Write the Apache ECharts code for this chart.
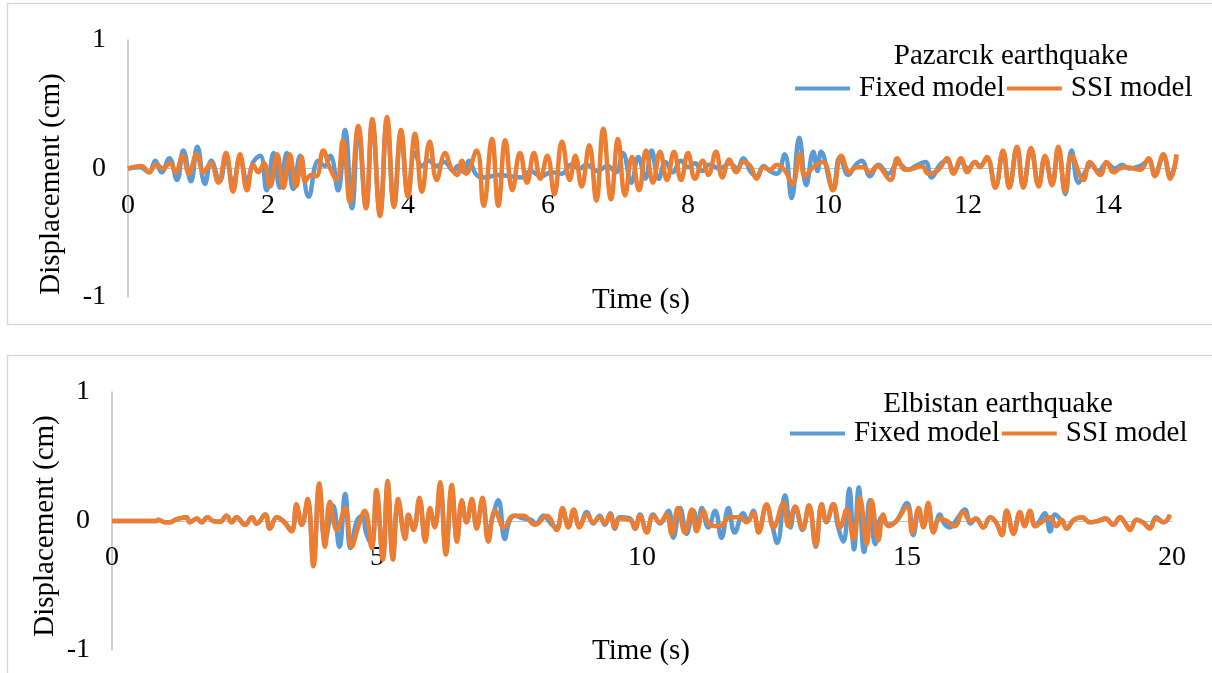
<!DOCTYPE html>
<html>
<head>
<meta charset="utf-8">
<script src="https://cdn.jsdelivr.net/npm/echarts@6/dist/echarts.min.js"></script>
<style>
html,body{margin:0;padding:0;background:#fff;}
#chart{width:1212px;height:673px;}
</style>
</head>
<body>
<div id="chart"></div>
<script>
// ---------- DATA (time s, displacement cm) ----------
const seriesNames = ['Fixed model', 'SSI model'];
const panelTitles = ['Pazarcık earthquake', 'Elbistan earthquake'];
const xAxisTitle = 'Time (s)';
const yAxisTitle = 'Displacement (cm)';

// Pazarcık — Fixed model
const pazFixed = [[0,0],[0.17,0.01],[0.30,-0.03],[0.39,0.06],[0.48,-0.03],[0.59,0.08],[0.70,-0.09],[0.79,0.14],[0.90,-0.10],[0.99,0.17],[1.10,-0.12],[1.19,0.06],[1.31,-0.10],[1.40,0.08],[1.50,-0.12],[1.60,0.08],[1.70,-0.10],[1.79,0.05],[1.89,0.10],[1.98,-0.17],[2.08,0.12],[2.17,-0.15],[2.27,0.12],[2.36,-0.16],[2.46,0.10],[2.58,-0.22],[2.72,0.06],[2.81,0.02],[2.89,0.10],[3.00,-0.17],[3.10,0.30],[3.20,-0.31],[3.29,0.30],[3.40,-0.30],[3.49,0.36],[3.60,-0.35],[3.70,0.37],[3.80,-0.28],[3.90,0.27],[4.00,-0.20],[4.10,0.12],[4.20,0.02],[4.30,0.06],[4.41,0.02],[4.52,0.05],[4.65,-0.02],[4.71,0.02],[4.80,-0.03],[4.87,0.06],[4.98,-0.05],[5.10,-0.07],[5.30,-0.05],[5.45,-0.06],[5.62,-0.07],[5.75,-0.02],[5.90,-0.06],[6.05,-0.03],[6.20,-0.04],[6.33,0.03],[6.45,0.0],[6.55,0.03],[6.70,-0.02],[6.85,0.02],[6.97,-0.03],[7.07,0.12],[7.19,-0.11],[7.29,0.09],[7.39,-0.08],[7.48,0.14],[7.58,-0.08],[7.68,0.05],[7.78,-0.03],[7.90,0.06],[8.00,0.01],[8.10,0.04],[8.20,-0.02],[8.30,0.03],[8.45,0.0],[8.60,0.04],[8.70,0.0],[8.79,0.08],[8.89,-0.02],[8.98,-0.06],[9.08,0.02],[9.17,-0.02],[9.27,-0.04],[9.38,0.11],[9.48,-0.23],[9.59,0.24],[9.69,-0.13],[9.79,0.13],[9.85,-0.02],[9.90,0.13],[10.07,-0.15],[10.17,0.09],[10.29,-0.05],[10.40,0.03],[10.48,0.06],[10.60,-0.06],[10.72,0.03],[10.86,-0.04],[11.00,0.04],[11.15,-0.01],[11.25,0.02],[11.39,0.05],[11.48,-0.07],[11.60,0.03],[11.70,0.06],[11.80,-0.02],[11.90,0.05],[12.00,0.0],[12.10,0.05],[12.17,0.02],[12.27,0.08],[12.39,-0.14],[12.50,0.13],[12.59,-0.14],[12.70,0.16],[12.79,-0.14],[12.90,0.15],[13.01,-0.13],[13.10,0.09],[13.20,-0.12],[13.29,0.15],[13.39,-0.20],[13.48,0.14],[13.58,-0.11],[13.68,-0.02],[13.76,0.03],[13.86,-0.02],[13.98,0.04],[14.10,0.0],[14.20,0.03],[14.30,0.0],[14.46,0.02],[14.58,0.06],[14.67,-0.04],[14.79,0.09],[14.89,-0.06],[14.98,0.09]];

// Pazarcık — SSI model
const pazSSI = [[0,0],[0.19,0.02],[0.30,-0.03],[0.40,0.03],[0.50,0],[0.60,0.04],[0.68,-0.03],[0.78,0.10],[0.87,-0.04],[0.98,0.11],[1.08,-0.03],[1.18,0.04],[1.29,-0.11],[1.40,0.12],[1.50,-0.18],[1.60,0.11],[1.70,-0.17],[1.79,0.03],[1.86,-0.03],[1.94,0.04],[2.03,-0.14],[2.13,0.11],[2.22,-0.15],[2.31,0.11],[2.40,-0.14],[2.48,0.09],[2.53,-0.10],[2.62,-0.05],[2.69,-0.06],[2.79,0.14],[2.88,0.01],[2.98,-0.09],[3.07,0.22],[3.17,-0.26],[3.29,0.33],[3.40,-0.31],[3.49,0.385],[3.60,-0.37],[3.70,0.40],[3.80,-0.30],[3.90,0.30],[4.00,-0.22],[4.10,0.27],[4.20,-0.18],[4.31,0.21],[4.41,-0.09],[4.53,0.12],[4.62,0.0],[4.70,-0.05],[4.77,0.06],[4.83,-0.04],[4.98,0.14],[5.08,-0.29],[5.20,0.23],[5.29,-0.29],[5.39,0.22],[5.49,-0.17],[5.60,0.12],[5.70,-0.11],[5.80,0.12],[5.89,-0.08],[5.99,0.10],[6.09,-0.20],[6.20,0.21],[6.31,-0.09],[6.39,0.10],[6.48,-0.14],[6.59,0.18],[6.69,-0.25],[6.79,0.31],[6.90,-0.24],[7.00,0.23],[7.10,-0.21],[7.20,0.09],[7.30,-0.17],[7.40,0.14],[7.50,-0.11],[7.60,0.13],[7.70,-0.09],[7.80,0.13],[7.90,-0.09],[8.00,0.12],[8.10,-0.08],[8.21,0.06],[8.29,-0.05],[8.40,0.13],[8.49,-0.07],[8.59,0.07],[8.69,-0.03],[8.79,0.05],[8.89,0.02],[8.98,-0.08],[9.08,0.01],[9.17,-0.01],[9.27,0.03],[9.39,-0.02],[9.49,-0.12],[9.60,0.11],[9.67,-0.06],[9.79,0.01],[9.93,0.05],[10.07,-0.17],[10.19,0.10],[10.31,-0.03],[10.41,0.01],[10.50,0.01],[10.60,-0.03],[10.70,0.02],[10.89,-0.09],[10.99,0.08],[11.10,-0.01],[11.22,0.0],[11.34,0.02],[11.43,-0.04],[11.58,-0.01],[11.70,0.08],[11.79,-0.04],[11.90,0.08],[11.99,-0.03],[12.10,0.05],[12.17,0.01],[12.27,0.09],[12.39,-0.15],[12.50,0.14],[12.59,-0.15],[12.70,0.17],[12.79,-0.15],[12.90,0.16],[13.01,-0.14],[13.10,0.10],[13.20,-0.13],[13.29,0.17],[13.39,-0.18],[13.48,0.10],[13.65,-0.09],[13.74,0.05],[13.89,-0.05],[13.98,0.05],[14.08,-0.03],[14.17,0.0],[14.27,0.01],[14.46,-0.01],[14.58,0.08],[14.67,-0.06],[14.79,0.11],[14.89,-0.08],[14.98,0.11]];

// Elbistan — Fixed model
const elbFixed = [[0,0],[0.84,0.0],[0.87,0.01],[1.0,-0.01],[1.09,-0.01],[1.2,0.01],[1.40,0.03],[1.47,-0.01],[1.60,0.02],[1.69,-0.01],[1.80,0.03],[1.91,0.0],[2.04,-0.005],[2.16,0.04],[2.26,-0.01],[2.35,0.03],[2.51,-0.03],[2.64,0.03],[2.73,-0.02],[2.89,0.05],[2.98,-0.06],[3.11,0.03],[3.23,0.0],[3.39,-0.07],[3.48,0.11],[3.58,-0.03],[3.69,0.15],[3.80,-0.30],[3.91,0.25],[4.02,-0.15],[4.17,0.12],[4.29,-0.20],[4.40,0.21],[4.50,-0.21],[4.62,0.0],[4.72,0.04],[4.80,-0.10],[4.90,-0.18],[4.99,0.20],[5.11,-0.26],[5.20,0.26],[5.30,-0.26],[5.40,0.14],[5.53,-0.12],[5.60,0.04],[5.69,-0.06],[5.80,0.16],[5.91,-0.14],[6.0,0.08],[6.09,-0.04],[6.19,0.26],[6.30,-0.23],[6.41,0.24],[6.51,-0.14],[6.60,0.14],[6.69,-0.01],[6.79,0.15],[6.88,-0.05],[6.99,0.15],[7.10,-0.10],[7.18,0.03],[7.29,0.16],[7.41,-0.14],[7.50,0.0],[7.60,0.04],[7.75,0.02],[7.90,0.01],[8.0,-0.02],[8.14,0.04],[8.30,-0.03],[8.39,-0.05],[8.50,0.08],[8.61,-0.04],[8.71,0.08],[8.82,-0.04],[8.96,0.07],[9.08,-0.02],[9.2,0.04],[9.3,-0.03],[9.40,0.06],[9.49,-0.06],[9.58,0.03],[9.77,0.02],[9.87,-0.06],[9.96,0.05],[10.09,-0.08],[10.21,0.05],[10.34,-0.02],[10.50,0.08],[10.59,-0.13],[10.72,0.10],[10.84,-0.10],[10.97,0.08],[11.05,-0.06],[11.13,0.10],[11.25,-0.05],[11.38,0.08],[11.50,-0.13],[11.63,0.10],[11.75,-0.09],[11.91,0.06],[12.0,0.0],[12.10,0.08],[12.20,-0.08],[12.35,0.12],[12.46,-0.04],[12.55,-0.17],[12.70,0.20],[12.80,-0.05],[12.89,0.11],[13.03,-0.07],[13.15,0.12],[13.28,-0.20],[13.39,0.13],[13.48,-0.01],[13.61,0.13],[13.69,-0.03],[13.80,-0.16],[13.91,0.25],[14.0,-0.22],[14.09,0.26],[14.19,-0.24],[14.30,0.16],[14.40,-0.18],[14.52,0.03],[14.65,-0.03],[14.8,0.0],[15.0,0.14],[15.12,-0.11],[15.22,0.08],[15.31,-0.04],[15.40,0.12],[15.50,-0.08],[15.62,0.05],[15.70,-0.02],[15.81,-0.05],[15.95,0.02],[16.09,0.09],[16.2,-0.02],[16.3,0.02],[16.44,-0.05],[16.57,0.03],[16.68,-0.01],[16.79,-0.10],[16.88,0.08],[17.01,-0.09],[17.13,0.06],[17.22,-0.03],[17.32,0.07],[17.42,-0.04],[17.50,0.0],[17.60,0.06],[17.70,-0.08],[17.79,0.05],[17.92,0.0],[18.01,-0.05],[18.15,0.01],[18.30,0.03],[18.45,-0.01],[18.6,0.0],[18.75,0.02],[18.89,-0.03],[19.02,0.03],[19.12,-0.02],[19.21,-0.06],[19.33,0.01],[19.45,-0.01],[19.58,-0.05],[19.70,0.03],[19.84,-0.01],[19.96,0.04]];

// Elbistan — SSI model
const elbSSI = [[0,0],[0.84,0.0],[0.87,0.01],[1.0,-0.01],[1.09,-0.01],[1.2,0.01],[1.40,0.03],[1.47,-0.01],[1.60,0.02],[1.69,-0.01],[1.80,0.03],[1.91,0.0],[2.04,-0.005],[2.16,0.04],[2.26,-0.01],[2.35,0.03],[2.51,-0.03],[2.64,0.03],[2.73,-0.02],[2.89,0.05],[2.98,-0.06],[3.11,0.03],[3.23,0.0],[3.39,-0.08],[3.48,0.13],[3.58,-0.03],[3.69,0.17],[3.80,-0.35],[3.91,0.29],[4.02,-0.20],[4.11,0.15],[4.24,-0.07],[4.40,0.10],[4.52,-0.20],[4.65,-0.04],[4.77,0.08],[4.90,-0.21],[4.99,0.24],[5.11,-0.30],[5.20,0.31],[5.30,-0.30],[5.40,0.17],[5.53,-0.14],[5.59,0.05],[5.69,-0.07],[5.80,0.18],[5.91,-0.16],[6.0,0.10],[6.09,-0.05],[6.19,0.30],[6.30,-0.26],[6.41,0.28],[6.51,-0.16],[6.60,0.16],[6.69,-0.01],[6.79,0.17],[6.88,-0.06],[6.99,0.18],[7.10,-0.16],[7.23,0.08],[7.40,-0.05],[7.57,0.04],[7.76,0.04],[7.98,-0.03],[8.20,0.04],[8.39,-0.07],[8.50,0.10],[8.61,-0.05],[8.71,0.09],[8.82,-0.05],[8.96,0.05],[9.08,-0.01],[9.2,0.03],[9.3,-0.02],[9.40,0.05],[9.49,-0.05],[9.58,0.02],[9.77,0.01],[9.87,-0.06],[9.96,0.04],[10.09,-0.09],[10.21,0.04],[10.34,-0.01],[10.46,0.05],[10.56,-0.10],[10.68,0.10],[10.81,-0.09],[10.94,0.09],[11.03,-0.08],[11.16,0.08],[11.28,-0.03],[11.47,-0.04],[11.66,0.03],[11.85,0.03],[11.97,-0.01],[12.10,0.06],[12.20,-0.09],[12.35,0.13],[12.48,-0.05],[12.67,0.14],[12.76,-0.04],[12.89,0.11],[13.03,-0.06],[13.15,0.12],[13.28,-0.19],[13.39,0.13],[13.48,0.0],[13.61,0.13],[13.74,-0.05],[13.86,0.09],[13.99,-0.14],[14.11,0.18],[14.24,-0.18],[14.33,0.16],[14.46,-0.15],[14.55,0.05],[14.65,-0.04],[14.8,0.0],[15.0,0.11],[15.10,-0.09],[15.22,0.10],[15.31,-0.05],[15.40,0.14],[15.50,-0.09],[15.62,0.02],[15.75,0.0],[15.90,-0.04],[16.06,0.07],[16.2,0.0],[16.3,0.02],[16.44,-0.05],[16.57,0.03],[16.68,-0.01],[16.79,-0.11],[16.88,0.08],[17.01,-0.10],[17.13,0.07],[17.22,-0.04],[17.32,0.08],[17.42,-0.04],[17.57,0.0],[17.70,0.03],[17.82,-0.04],[17.92,0.01],[18.01,-0.06],[18.15,0.01],[18.30,0.03],[18.45,-0.01],[18.6,0.0],[18.75,0.02],[18.89,-0.03],[19.02,0.03],[19.12,-0.02],[19.21,-0.07],[19.33,0.01],[19.45,-0.01],[19.58,-0.06],[19.70,0.02],[19.84,-0.01],[19.96,0.05]];

// axis ranges / ticks
const xMax = [15, 20];
const xInterval = [2, 5];
const yMin = -1, yMax = 1, yInterval = 1;

// ---------- CHART ----------
const FONT = 'Liberation Serif, "Times New Roman", serif';
const BLUE = '#5B9BD5', ORANGE = '#ED7D31';
const chart = echarts.init(document.getElementById('chart'), null, {renderer: 'canvas'});

const grids = [
  {left: 128, width: 1050, top: 40, height: 257},
  {left: 112, width: 1060, top: 392, height: 258}
];

function xAxisCfg(i) {
  return {
    gridIndex: i, type: 'value', min: 0, max: xMax[i], interval: xInterval[i],
    position: 'bottom',
    offset: -grids[i].height / 2,
    axisLine: {onZero: false, lineStyle: {color: '#bfbfbf', width: 1}},
    axisTick: {show: false}, splitLine: {show: false},
    axisLabel: {fontFamily: FONT, fontSize: 28, color: '#000', margin: 23, showMaxLabel: i === 1}
  };
}
function yAxisCfg(i) {
  return {
    gridIndex: i, type: 'value', min: yMin, max: yMax, interval: yInterval,
    axisLine: {show: true, onZero: false, lineStyle: {color: '#bfbfbf', width: 1.5}},
    axisTick: {show: false}, splitLine: {show: false},
    axisLabel: {fontFamily: FONT, fontSize: 28, color: '#000', margin: 22}
  };
}
function lineSeries(name, data, gi, color, z) {
  return {
    name: name, type: 'line', xAxisIndex: gi, yAxisIndex: gi, data: data,
    showSymbol: false, smooth: 0.45, z: z,
    color: color, lineStyle: {color: color, width: 4.5}, animation: false
  };
}
function legendCfg(left, top) {
  return {
    left: left, top: top, itemWidth: 55, itemHeight: 4, itemGap: 2, icon: 'rect',
    data: seriesNames, selectedMode: false,
    textStyle: {fontFamily: FONT, fontSize: 29, color: '#000', padding: [0, 0, 0, 4]}
  };
}
function txt(text, x, y, rot) {
  return {
    type: 'text', x: x, y: y, rotation: rot || 0, silent: true,
    style: {text: text, fontFamily: FONT, fontSize: 29, fill: '#000', align: 'center', verticalAlign: 'middle'}
  };
}

const option = {
  backgroundColor: '#fff',
  animation: false,
  grid: grids,
  xAxis: [xAxisCfg(0), xAxisCfg(1)],
  yAxis: [yAxisCfg(0), yAxisCfg(1)],
  legend: [legendCfg(790, 69), legendCfg(785, 414)],
  series: [
    lineSeries(seriesNames[0], pazFixed, 0, BLUE, 2),
    lineSeries(seriesNames[1], pazSSI, 0, ORANGE, 3),
    lineSeries(seriesNames[0], elbFixed, 1, BLUE, 2),
    lineSeries(seriesNames[1], elbSSI, 1, ORANGE, 3)
  ],
  graphic: [
    {type: 'rect', silent: true, z: -10, shape: {x: 7.5, y: 3.5, width: 1220, height: 321}, style: {fill: 'none', stroke: '#d9d9d9', lineWidth: 1.5}},
    {type: 'rect', silent: true, z: -10, shape: {x: 7.5, y: 355.5, width: 1220, height: 340}, style: {fill: 'none', stroke: '#d9d9d9', lineWidth: 1.5}},
    txt(yAxisTitle, 51, 184, Math.PI / 2),
    txt(xAxisTitle, 641, 300),
    txt(panelTitles[0], 1011, 56),
    txt(yAxisTitle, 45, 526, Math.PI / 2),
    txt(xAxisTitle, 641, 651),
    txt(panelTitles[1], 998, 404)
  ]
};
chart.setOption(option);
</script>
</body>
</html>
